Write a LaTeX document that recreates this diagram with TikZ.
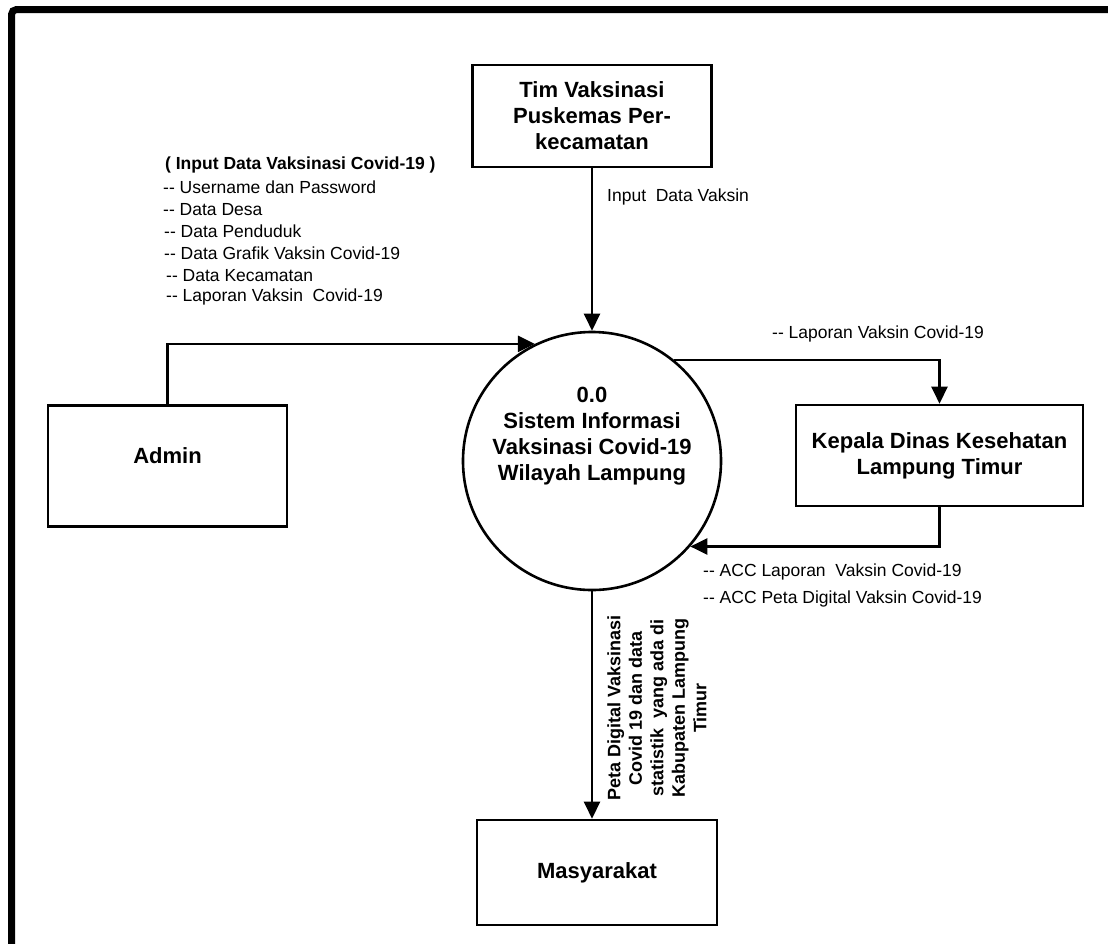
\documentclass[tikz,border=0pt]{standalone}
\usepackage{fontspec}
\setmainfont{Liberation Sans}
\usetikzlibrary{arrows.meta}
\newcommand{\dd}{-{}-}
\begin{document}
\begin{tikzpicture}[x=1pt,y=-1pt,
  box/.style={draw, line width=2.6pt, rectangle, inner sep=0pt, fill=white},
  bigtxt/.style={font=\fontsize{22}{26}\selectfont\bfseries, align=center, inner sep=0pt},
  lbl/.style={font=\fontsize{17.5}{21}\selectfont, anchor=west, inner sep=0pt},
  flow/.style={line width=2.4pt, -{Triangle[length=17pt,width=16pt]}}]
\useasboundingbox (0,0) rectangle (1108,943);
% outer frame
\draw[line width=7pt, rounded corners=5pt] (11.5,1000) -- (11.5,9.5) -- (1200,9.5);

% entities
\node[box, minimum width=239pt, minimum height=102pt] (tim) at (592,116) {};
\node[bigtxt] (timtxt) at (tim) {Tim Vaksinasi\\Puskemas Per-\\kecamatan};
\node[box, minimum width=239pt, minimum height=121pt] (admin) at (167.5,466) {};
\node[bigtxt] (admintxt) at (167.5,456) {Admin};
\node[box, minimum width=287pt, minimum height=101pt] (kepala) at (939.5,455.5) {};
\node[bigtxt] (kepalatxt) at (kepala) {Kepala Dinas Kesehatan\\Lampung Timur};
\node[box, minimum width=240pt, minimum height=105pt] (masy) at (597,872.5) {};
\node[bigtxt] (masytxt) at (masy) {Masyarakat};

% process
\node[draw, circle, line width=2.6pt, minimum size=258pt, inner sep=0pt] (circ) at (592,461) {};
\node[bigtxt] (circtxt) at (592,436) {0.0\\Sistem Informasi\\Vaksinasi Covid-19\\Wilayah Lampung};

% flows
\draw[flow] (tim.south) -- (tim.south |- circ.north);
\draw[flow] (admin.north) |- (circ.116);
\draw[flow] (circ.51) -| (kepala.north);
\draw[flow] (kepala.south) |- (circ.-41);
\draw[flow] (circ.south) -- (circ.south |- masy.north);

% labels
\node[lbl] (lin) at (607,197) {Input~ Data Vaksin};
\node[lbl, font=\fontsize{17.5}{21}\selectfont\bfseries] (l0) at (165,165) {( Input Data Vaksinasi Covid-19 )};
\node[lbl] (l1) at (163,187) {\dd\ Username dan Password};
\node[lbl] (l2) at (163,210) {\dd\ Data Desa};
\node[lbl] (l3) at (164,231) {\dd\ Data Penduduk};
\node[lbl] (l4) at (164,253) {\dd\ Data Grafik Vaksin Covid-19};
\node[lbl] (l5) at (166,276) {\dd\ Data Kecamatan};
\node[lbl] (l6) at (166,297) {\dd\ Laporan Vaksin~ Covid-19};
\node[lbl] (lk) at (772,334) {\dd\ Laporan Vaksin Covid-19};
\node[lbl] (a1) at (703,572) {\dd\ ACC Laporan~ Vaksin Covid-19};
\node[lbl] (a2) at (703,599) {\dd\ ACC Peta Digital Vaksin Covid-19};
\node[rotate=90, font=\fontsize{18}{21.5}\selectfont\bfseries, align=center, inner sep=0pt] (peta) at (657,708)
  {Peta Digital Vaksinasi\\Covid 19 dan data\\statistik~ yang ada di\\Kabupaten Lampung\\Timur};
\end{tikzpicture}
\end{document}
